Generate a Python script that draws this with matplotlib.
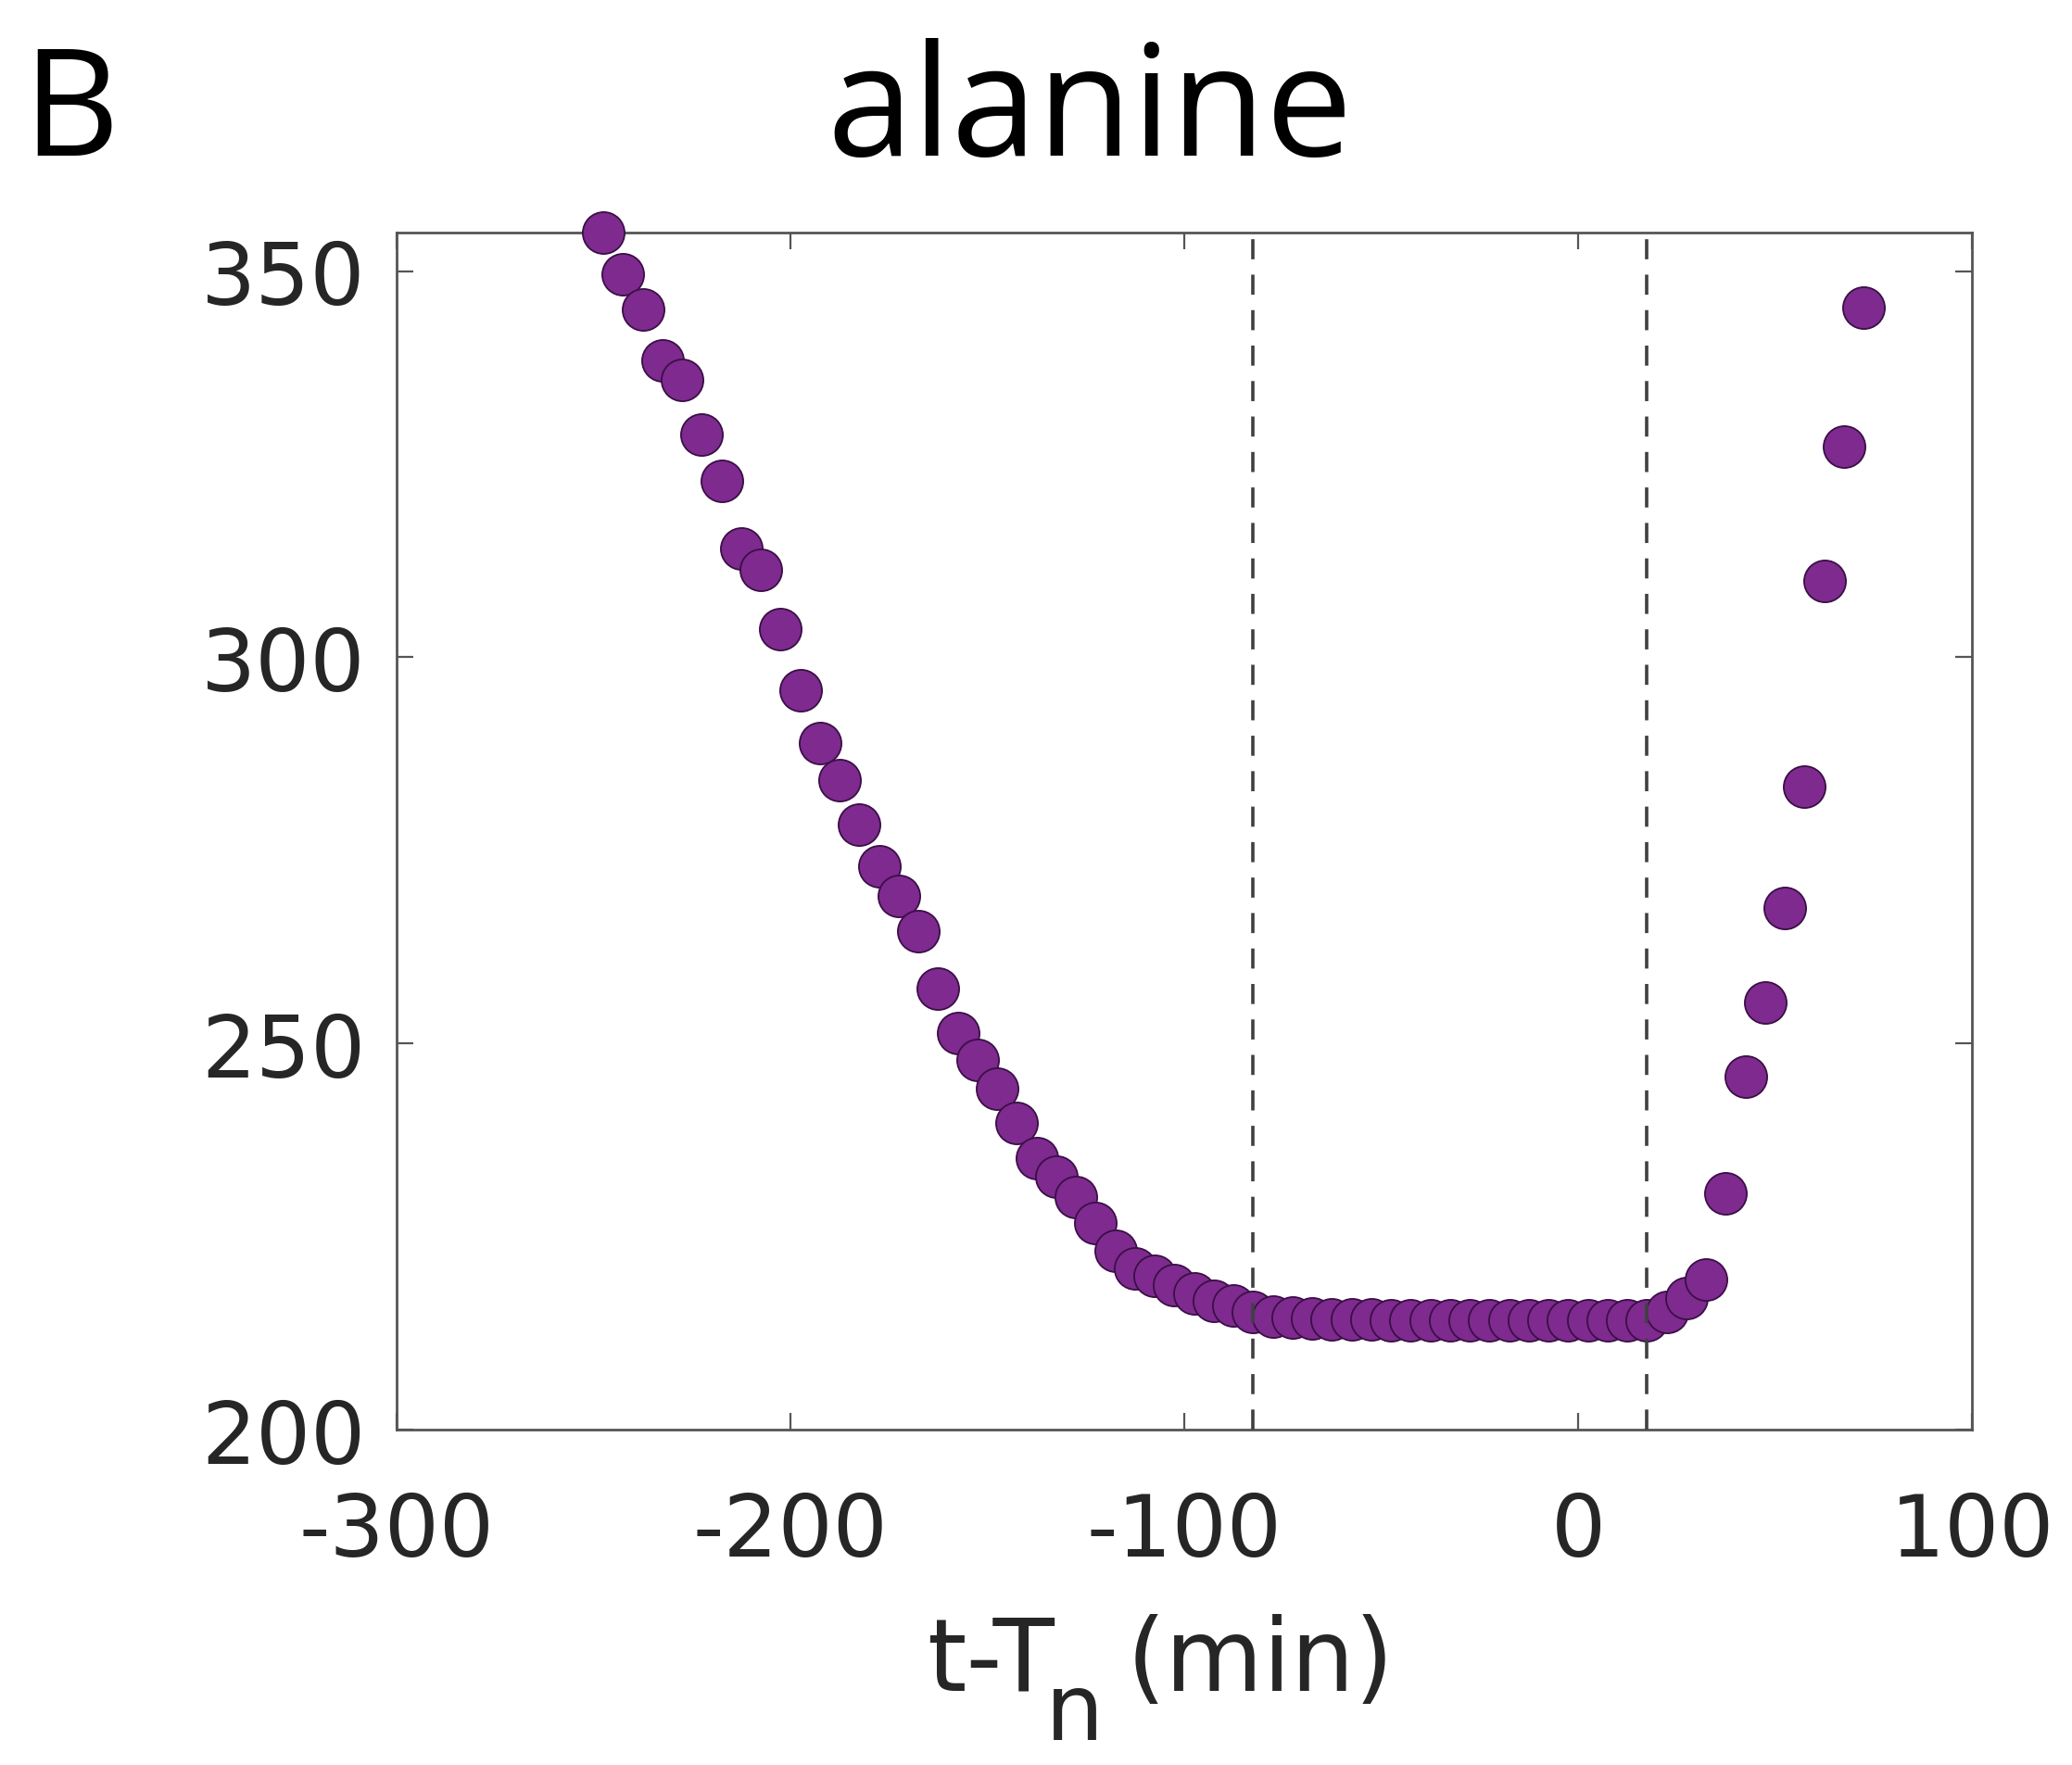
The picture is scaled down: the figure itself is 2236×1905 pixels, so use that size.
import matplotlib
matplotlib.use("Agg")
import matplotlib.pyplot as plt

# time relative to T_n (min) and alanine level
t_min = [-247.5, -242.5, -237.5, -232.5, -227.5, -222.5, -217.5, -212.5, -207.5, -202.5,
         -197.5, -192.5, -187.5, -182.5, -177.5, -172.5, -167.5, -162.5, -157.5, -152.5,
         -147.5, -142.5, -137.5, -132.5, -127.5, -122.5, -117.5, -112.5, -107.5, -102.5,
         -97.5, -92.5, -87.5, -82.5, -77.5, -72.5, -67.5, -62.5, -57.5, -52.5,
         -47.5, -42.5, -37.5, -32.5, -27.5, -22.5, -17.5, -12.5, -7.5, -2.5,
         2.5, 7.5, 12.5, 17.5, 22.5, 27.5, 32.5, 37.5, 42.5, 47.5,
         52.5, 57.5, 62.5, 67.5, 72.5]
alanine = [355.0, 349.6, 345.0, 338.4, 335.9, 328.9, 322.8, 314.1, 311.3, 303.7,
           295.7, 288.9, 284.1, 278.4, 272.9, 269.1, 264.5, 257.1, 251.3, 247.9,
           244.1, 239.7, 235.1, 232.7, 230.1, 226.7, 223.1, 220.9, 219.9, 218.7,
           217.7, 216.7, 216.1, 215.3, 214.7, 214.5, 214.4, 214.3, 214.3, 214.3,
           214.2, 214.2, 214.2, 214.2, 214.2, 214.2, 214.2, 214.2, 214.2, 214.2,
           214.2, 214.2, 214.2, 214.2, 215.3, 217.1, 219.4, 230.6, 245.7, 255.3,
           267.5, 283.3, 309.9, 327.3, 345.3]

# boundaries of the plateau window
window_edges = [-82.5, 17.5]

x_ticks = [-300, -200, -100, 0, 100]
y_ticks = [200, 250, 300, 350]

W, H = 2236, 1906
fig = plt.figure(figsize=(W / 100, H / 100), dpi=100)
ax = fig.add_axes([0.1914, 0.1899, 0.7603, 0.6779])

axis_col = "#262626"
label_font = "DejaVu Sans"

ax.scatter(t_min, alanine, s=32.5 ** 2, facecolor="#7E2A8F", edgecolor="#3A0F45",
           linewidth=1.3, zorder=3, clip_on=False)

for xe in window_edges:
    ax.axvline(xe, color="#404040", linewidth=2.6, linestyle=(0, (6.0, 4.6)), zorder=4)

ax.set_xlim(-300, 100)
ax.set_ylim(200, 355)
ax.set_xticks(x_ticks)
ax.set_yticks(y_ticks)
ax.set_xticklabels([str(v) for v in x_ticks])
ax.set_yticklabels([str(v) for v in y_ticks])

for sp in ax.spines.values():
    sp.set_color("#555555")
    sp.set_linewidth(2.0)

ax.tick_params(axis="both", which="major", direction="in", length=13, width=1.6,
               color="#555555", top=True, right=True, labelsize=67,
               labelcolor=axis_col)
ax.tick_params(axis="x", pad=47)
ax.tick_params(axis="y", pad=24)
for lab in ax.get_xticklabels() + ax.get_yticklabels():
    lab.set_fontfamily(label_font)

# x-axis label with a full-size, lowered subscript
renderer = fig.canvas.get_renderer()
base_y = 1 - 1825 / H
t1 = fig.text(1000 / W, base_y, "t-T", fontsize=78, fontfamily=label_font,
              color=axis_col, ha="left", va="baseline")
e1 = t1.get_window_extent(renderer)
t2 = fig.text((e1.x1 - 10) / W, 1 - 1878 / H, "n", fontsize=72, fontfamily=label_font,
              color=axis_col, ha="left", va="baseline")
e2 = t2.get_window_extent(renderer)
fig.text((e2.x1 + 24) / W, base_y, "(min)", fontsize=78, fontfamily=label_font,
         color=axis_col, ha="left", va="baseline")

fig.text(0.526, 0.912, "alanine", fontsize=120, fontfamily="Open Sans",
         ha="center", va="baseline", color="black")
fig.text(0.011, 0.912, "B", fontsize=116, fontfamily="Open Sans",
         ha="left", va="baseline", color="black")

fig.savefig("out.png", dpi=100, facecolor="white")
